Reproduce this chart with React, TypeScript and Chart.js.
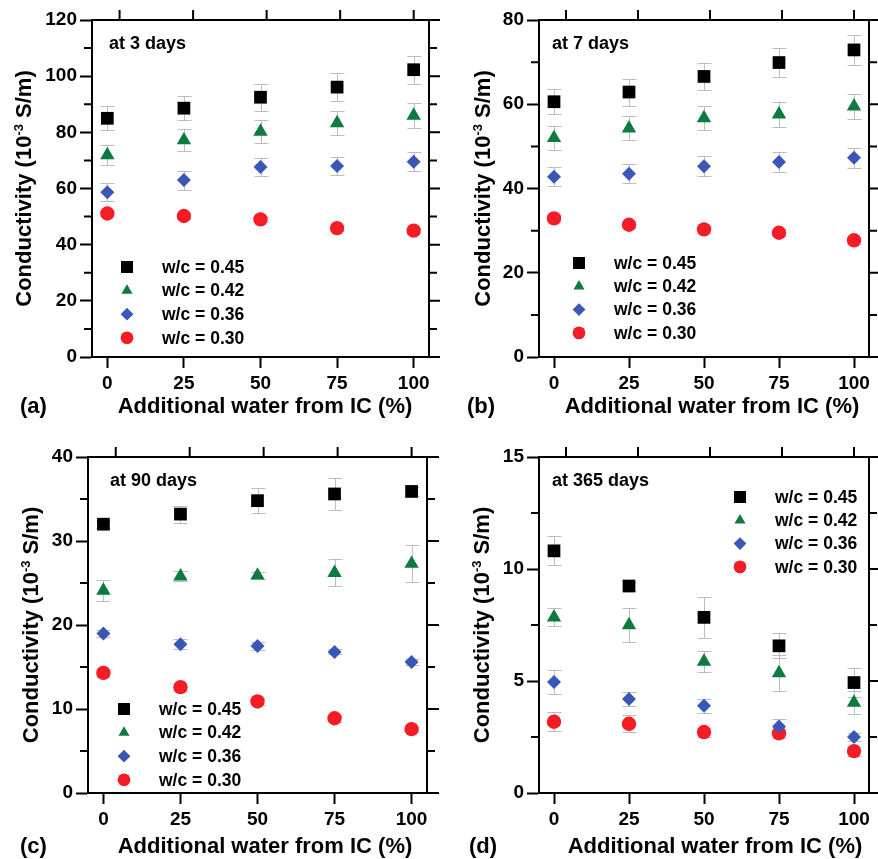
import React, { useEffect, useRef } from 'react';
import { Chart, registerables } from 'chart.js';

Chart.register(...registerables);

// ---------- data ----------
const xValues = [0, 25, 50, 75, 100];
const xTickValues = [0, 25, 50, 75, 100];
const topTickValues = [4, 28, 52, 76, 100];
const seriesLabels = ['w/c = 0.45', 'w/c = 0.42', 'w/c = 0.36', 'w/c = 0.30'];
const xAxisTitle = 'Additional water from IC (%)';

// (a) 3 days
const a045 = [85.0, 88.6, 92.5, 96.1, 102.3];
const a045Err = [4.2, 4.3, 4.8, 4.9, 5.0];
const a042 = [71.9, 77.2, 80.3, 83.3, 86.0];
const a042Err = [3.7, 3.9, 4.0, 4.2, 4.3];
const a036 = [58.7, 63.0, 67.7, 68.0, 69.5];
const a036Err = [3.3, 3.4, 3.3, 3.3, 3.4];
const a030 = [51.1, 50.2, 49.0, 45.9, 45.0];
const a030Err = [1.0, 1.0, 1.0, 1.0, 1.0];
const aYTicks = [0, 20, 40, 60, 80, 100, 120];
const aYMinor = [10, 30, 50, 70, 90, 110];

// (b) 7 days
const b045 = [60.6, 62.9, 66.6, 69.9, 72.9];
const b045Err = [3.0, 3.2, 3.3, 3.5, 3.6];
const b042 = [52.0, 54.3, 56.7, 57.6, 59.5];
const b042Err = [2.8, 2.8, 2.9, 2.9, 3.0];
const b036 = [42.8, 43.5, 45.3, 46.3, 47.3];
const b036Err = [2.2, 2.3, 2.3, 2.3, 2.4];
const b030 = [32.9, 31.4, 30.3, 29.5, 27.7];
const b030Err = [0.8, 0.8, 0.8, 0.8, 0.8];
const bYTicks = [0, 20, 40, 60, 80];
const bYMinor = [10, 30, 50, 70];

// (c) 90 days
const c045 = [32.0, 33.2, 34.8, 35.6, 35.9];
const c045Err = [0.5, 1.0, 1.5, 1.9, 0.5];
const c042 = [24.1, 25.8, 25.9, 26.2, 27.3];
const c042Err = [1.2, 0.6, 0.4, 1.6, 2.2];
const c036 = [19.0, 17.7, 17.5, 16.8, 15.6];
const c036Err = [0.4, 0.6, 0.5, 0.3, 0.4];
const c030 = [14.3, 12.6, 10.9, 8.9, 7.6];
const c030Err = [0.5, 0.4, 0.4, 0.4, 0.3];
const cYTicks = [0, 10, 20, 30, 40];
const cYMinor = [5, 15, 25, 35];

// (d) 365 days
const d045 = [10.81, 9.24, 7.84, 6.57, 4.93];
const d045Err = [0.65, 0.2, 0.9, 0.56, 0.63];
const d042 = [7.84, 7.5, 5.87, 5.35, 4.04];
const d042Err = [0.4, 0.76, 0.48, 0.8, 0.5];
const d036 = [4.95, 4.2, 3.89, 2.97, 2.5];
const d036Err = [0.55, 0.33, 0.3, 0.35, 0.2];
const d030 = [3.18, 3.09, 2.72, 2.66, 1.87];
const d030Err = [0.43, 0.37, 0.2, 0.2, 0.2];
const dYTicks = [0, 5, 10, 15];
const dYMinor = [2.5, 7.5, 12.5];

// ---------- styles ----------
const FONT = 'Arial, "Liberation Sans", Helvetica, sans-serif';
const seriesStyle = [
  { color: '#000000', point: 'rect', r: 9, lr: 8.5 },
  { color: '#0d7a3e', point: 'triangle', r: 8.3, lr: 6.4 },
  { color: '#3b57b5', point: 'rectRot', r: 7, lr: 6.4 },
  { color: '#f51d25', point: 'circle', r: 7.2, lr: 6.4 },
];

type Area = { left: number; right: number; top: number; bottom: number };
type PanelSpec = {
  left: number; top: number; width: number; height: number;
  area: Area;
  yMax: number; yTicks: number[]; yMinor: number[];
  series: number[][]; errors: number[][];
  ageLabel: string; ageX: number; ageY: number;
  legX: number; legTextX: number; legY0: number; legGap: number;
  yTitleX: number; xTitleX: number; titleY: number;
  panelLabel: string; panelLabelX: number;
};

const panels: PanelSpec[] = [
  {
    left: 0, top: 0, width: 440, height: 420,
    area: { left: 92, right: 429, top: 20, bottom: 357 },
    yMax: 120, yTicks: aYTicks, yMinor: aYMinor,
    series: [a045, a042, a036, a030], errors: [a045Err, a042Err, a036Err, a030Err],
    ageLabel: 'at 3 days', ageX: 109, ageY: 44,
    legX: 127, legTextX: 162, legY0: 267, legGap: 23.6,
    yTitleX: 23, xTitleX: 265, titleY: 407, panelLabel: '(a)', panelLabelX: 20,
  },
  {
    left: 440, top: 0, width: 438, height: 420,
    area: { left: 99, right: 437, top: 20, bottom: 357 },
    yMax: 80, yTicks: bYTicks, yMinor: bYMinor,
    series: [b045, b042, b036, b030], errors: [b045Err, b042Err, b036Err, b030Err],
    ageLabel: 'at 7 days', ageX: 112, ageY: 44,
    legX: 139, legTextX: 174, legY0: 263, legGap: 23.3,
    yTitleX: 42, xTitleX: 272, titleY: 407, panelLabel: '(b)', panelLabelX: 27,
  },
  {
    left: 0, top: 420, width: 440, height: 439,
    area: { left: 88, right: 427, top: 37, bottom: 373 },
    yMax: 40, yTicks: cYTicks, yMinor: cYMinor,
    series: [c045, c042, c036, c030], errors: [c045Err, c042Err, c036Err, c030Err],
    ageLabel: 'at 90 days', ageX: 110, ageY: 61,
    legX: 124, legTextX: 159, legY0: 289, legGap: 23.6,
    yTitleX: 30, xTitleX: 265, titleY: 427, panelLabel: '(c)', panelLabelX: 20,
  },
  {
    left: 440, top: 420, width: 438, height: 439,
    area: { left: 99, right: 437, top: 37, bottom: 373 },
    yMax: 15, yTicks: dYTicks, yMinor: dYMinor,
    series: [d045, d042, d036, d030], errors: [d045Err, d042Err, d036Err, d030Err],
    ageLabel: 'at 365 days', ageX: 112, ageY: 61,
    legX: 300, legTextX: 335, legY0: 77, legGap: 23.3,
    yTitleX: 41, xTitleX: 275, titleY: 427, panelLabel: '(d)', panelLabelX: 29,
  },
];

function drawMarker(ctx: CanvasRenderingContext2D, style: string, x: number, y: number, r: number, color: string) {
  ctx.fillStyle = color;
  ctx.beginPath();
  if (style === 'rect') {
    const s = r * Math.SQRT1_2;
    ctx.rect(x - s, y - s, 2 * s, 2 * s);
  } else if (style === 'triangle') {
    ctx.moveTo(x, y - r);
    ctx.lineTo(x + r * 0.866, y + r * 0.5);
    ctx.lineTo(x - r * 0.866, y + r * 0.5);
    ctx.closePath();
  } else if (style === 'rectRot') {
    ctx.moveTo(x, y - r);
    ctx.lineTo(x + r, y);
    ctx.lineTo(x, y + r);
    ctx.lineTo(x - r, y);
    ctx.closePath();
  } else {
    ctx.arc(x, y, r, 0, Math.PI * 2);
  }
  ctx.fill();
}

const decorPlugin = {
  id: 'decor',
  beforeDatasetsDraw(chart: any, _args: any, opts: any) {
    const ctx: CanvasRenderingContext2D = chart.ctx;
    const xs = chart.scales.x;
    const ys = chart.scales.y;
    ctx.save();
    ctx.strokeStyle = '#bdbdbd';
    ctx.lineWidth = 1;
    chart.data.datasets.forEach((ds: any, i: number) => {
      const errs: number[] = opts.errors[i];
      ds.data.forEach((p: any, j: number) => {
        const e = errs[j];
        const px = Math.round(xs.getPixelForValue(p.x)) + 0.5;
        const y1 = Math.round(ys.getPixelForValue(p.y - e)) + 0.5;
        const y2 = Math.round(ys.getPixelForValue(p.y + e)) + 0.5;
        ctx.beginPath();
        ctx.moveTo(px, y1); ctx.lineTo(px, y2);
        ctx.moveTo(px - 7, y1); ctx.lineTo(px + 7, y1);
        ctx.moveTo(px - 7, y2); ctx.lineTo(px + 7, y2);
        ctx.stroke();
      });
    });
    ctx.restore();
  },
  afterDraw(chart: any, _args: any, opts: any) {
    const ctx: CanvasRenderingContext2D = chart.ctx;
    const a = chart.chartArea;
    const xs = chart.scales.x;
    const ys = chart.scales.y;
    ctx.save();
    ctx.strokeStyle = '#000';
    ctx.lineWidth = 2;
    ctx.lineCap = 'butt';
    // top & right frame
    ctx.beginPath();
    ctx.moveTo(a.left - 1, a.top); ctx.lineTo(a.right + 1, a.top);
    ctx.moveTo(a.right, a.top); ctx.lineTo(a.right, a.bottom);
    ctx.stroke();
    // right major ticks
    ctx.beginPath();
    opts.yTicks.forEach((v: number) => {
      const y = ys.getPixelForValue(v);
      ctx.moveTo(a.right, y); ctx.lineTo(a.right + 12, y);
    });
    // minor ticks both sides
    opts.yMinor.forEach((v: number) => {
      const y = ys.getPixelForValue(v);
      ctx.moveTo(a.left - 8, y); ctx.lineTo(a.left, y);
      ctx.moveTo(a.right, y); ctx.lineTo(a.right + 8, y);
    });
    // top ticks
    opts.topTicks.forEach((v: number) => {
      const x = xs.getPixelForValue(v);
      ctx.moveTo(x, a.top - 10); ctx.lineTo(x, a.top);
    });
    ctx.stroke();

    ctx.fillStyle = '#000';
    // age label
    ctx.font = `bold 18px ${FONT}`;
    ctx.textAlign = 'left';
    ctx.textBaseline = 'middle';
    ctx.fillText(opts.ageLabel, opts.ageX, opts.ageY);

    // legend
    ctx.font = `bold 17.5px ${FONT}`;
    opts.labels.forEach((lab: string, i: number) => {
      const y = opts.legY0 + i * opts.legGap;
      const st = seriesStyle[i];
      drawMarker(ctx, st.point, opts.legX, y, st.lr, st.color);
      ctx.fillStyle = '#000';
      ctx.fillText(lab, opts.legTextX, y + 1);
    });

    // x title and panel label
    ctx.font = `bold 22px ${FONT}`;
    ctx.textAlign = 'center';
    ctx.fillText(opts.xTitle, opts.xTitleX, opts.titleY);
    ctx.textAlign = 'left';
    ctx.fillText(opts.panelLabel, opts.panelLabelX, opts.titleY);

    // y title with superscript
    const cy = (a.top + a.bottom) / 2;
    ctx.translate(opts.yTitleX, cy);
    ctx.rotate(-Math.PI / 2);
    const p1 = 'Conductivity (10';
    const sup = '-3';
    const p3 = ' S/m)';
    ctx.font = `bold 22px ${FONT}`;
    const w1 = ctx.measureText(p1).width;
    const w3 = ctx.measureText(p3).width;
    ctx.font = `bold 13px ${FONT}`;
    const w2 = ctx.measureText(sup).width;
    let x0 = -(w1 + w2 + w3) / 2;
    ctx.textAlign = 'left';
    ctx.textBaseline = 'alphabetic';
    const base = 8;
    ctx.font = `bold 22px ${FONT}`;
    ctx.fillText(p1, x0, base);
    x0 += w1;
    ctx.font = `bold 13px ${FONT}`;
    ctx.fillText(sup, x0, base - 8);
    x0 += w2;
    ctx.font = `bold 22px ${FONT}`;
    ctx.fillText(p3, x0, base);
    ctx.restore();
  },
};

function Panel({ p }: { p: PanelSpec }) {
  const ref = useRef<HTMLCanvasElement>(null);
  useEffect(() => {
    const canvas = ref.current;
    if (!canvas) return;
    const datasets = seriesLabels.map((label, i) => ({
      label,
      data: xValues.map((x, j) => ({ x, y: p.series[i][j] })),
      pointStyle: seriesStyle[i].point,
      pointRadius: seriesStyle[i].r,
      pointHoverRadius: seriesStyle[i].r,
      pointBackgroundColor: seriesStyle[i].color,
      backgroundColor: seriesStyle[i].color,
      pointBorderWidth: 0,
      borderWidth: 0,
      showLine: false,
    }));
    const chart = new Chart(canvas, {
      type: 'scatter',
      data: { datasets } as any,
      options: {
        responsive: false,
        animation: false,
        events: [],
        layout: { padding: { top: p.area.top, right: p.width - p.area.right, left: 0, bottom: 0 } },
        plugins: {
          legend: { display: false },
          tooltip: { enabled: false },
          decor: {
            errors: p.errors,
            yTicks: p.yTicks,
            yMinor: p.yMinor,
            topTicks: topTickValues,
            labels: seriesLabels,
            ageLabel: p.ageLabel, ageX: p.ageX, ageY: p.ageY,
            legX: p.legX, legTextX: p.legTextX, legY0: p.legY0, legGap: p.legGap,
            xTitle: xAxisTitle, xTitleX: p.xTitleX, titleY: p.titleY,
            panelLabel: p.panelLabel, panelLabelX: p.panelLabelX,
            yTitleX: p.yTitleX,
          },
        } as any,
        scales: {
          x: {
            type: 'linear',
            position: 'bottom',
            min: -5,
            max: 105,
            afterBuildTicks: (s: any) => { s.ticks = xTickValues.map((v) => ({ value: v })); },
            afterFit: (s: any) => { s.height = p.height - p.area.bottom; },
            grid: { drawOnChartArea: false, drawTicks: true, tickLength: 11, tickWidth: 2, tickColor: '#000' },
            border: { display: true, width: 2, color: '#000' },
            ticks: { color: '#000', font: { family: FONT, size: 19, weight: 'bold' }, padding: 4, maxRotation: 0, autoSkip: false },
          },
          y: {
            type: 'linear',
            min: 0,
            max: p.yMax,
            afterBuildTicks: (s: any) => { s.ticks = p.yTicks.map((v) => ({ value: v })); },
            afterFit: (s: any) => { s.width = p.area.left; },
            grid: { drawOnChartArea: false, drawTicks: true, tickLength: 12, tickWidth: 2, tickColor: '#000' },
            border: { display: true, width: 2, color: '#000' },
            ticks: { color: '#000', font: { family: FONT, size: 19, weight: 'bold' }, padding: 3, autoSkip: false },
          },
        } as any,
      },
      plugins: [decorPlugin as any],
    });
    return () => chart.destroy();
  }, [p]);
  return (
    <canvas
      ref={ref}
      width={p.width}
      height={p.height}
      style={{ position: 'absolute', left: p.left, top: p.top, width: p.width, height: p.height }}
    />
  );
}

export default function App() {
  return (
    <div style={{ position: 'absolute', left: 0, top: 0, width: 878, height: 859, background: '#fff', overflow: 'hidden' }}>
      {panels.map((p, i) => (
        <Panel key={i} p={p} />
      ))}
    </div>
  );
}
